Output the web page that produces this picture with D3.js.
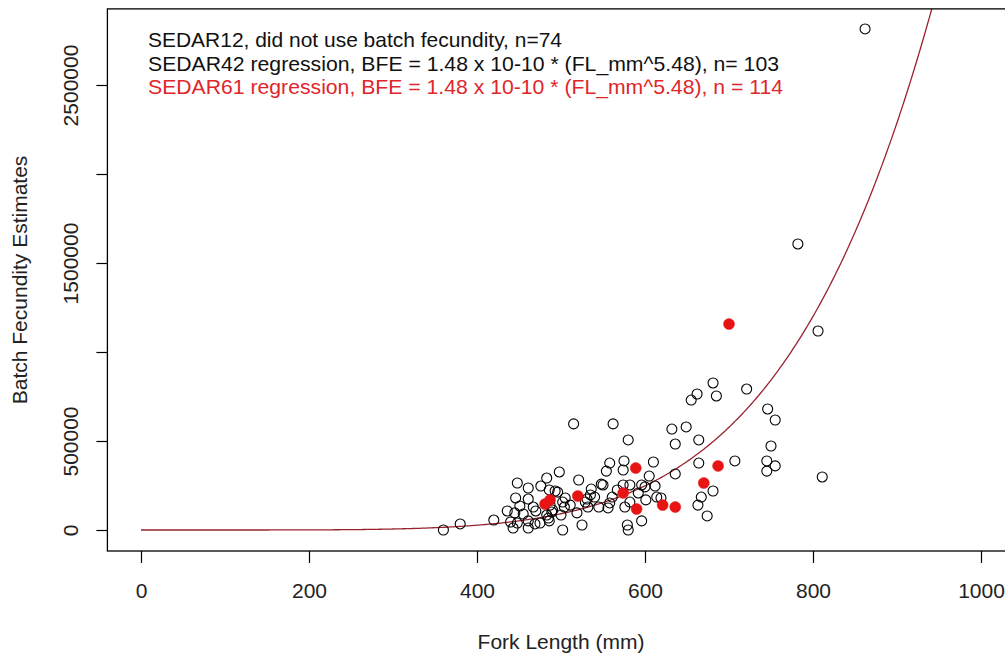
<!DOCTYPE html>
<html><head><meta charset="utf-8">
<script src="https://cdn.jsdelivr.net/npm/d3@7"></script>
<style>body{margin:0;background:#fff}svg{display:block}text{font-family:"Liberation Sans",Arial,sans-serif}</style>
</head><body>
<svg id="c" width="1005" height="658"></svg>
<script>
// SEDAR42 (open circles): fork length (mm) and batch fecundity estimates
const sedar42FL = [360,380,420,448,461,446,461,451,436,445,467,470,440,443,461,461,469,475,483,486,493,485,489,448,
  515,498,521,536,505,531,540,487,502,504,529,532,519,483,500,486,525,502,490,496,545,548,550,
  562,580,558,554,575,574,610,605,574,582,596,600,561,592,601,614,619,556,576,582,579,580,596,558,
  632,649,636,681,662,655,685,721,746,755,664,750,636,664,707,745,755,745,811,681,
  667,663,674,782,806,862,
  476,455,511,535,567,612];
const sedar42BFE = [0,34000,56000,264000,236000,180000,174000,135000,107000,96000,129000,107000,45000,11000,51000,11000,34000,39000,292000,225000,219000,67000,101000,39000,
  596000,326000,281000,230000,180000,174000,185000,140000,157000,129000,157000,129000,96000,84000,84000,51000,28000,0,112000,213000,129000,258000,253000,
  596000,506000,376000,331000,388000,337000,382000,303000,253000,253000,253000,242000,185000,208000,169000,185000,180000,124000,129000,157000,28000,0,51000,152000,
  567000,579000,483000,826000,764000,730000,753000,792000,680000,618000,506000,472000,315000,376000,388000,388000,360000,331000,298000,219000,
  185000,140000,79000,1607000,1118000,2815000,
  247000,90000,140000,197000,225000,247000];
// SEDAR61 additions (filled red)
const sedar61FL  = [481,487,520,574,589,590,621,636,670,687,700];
const sedar61BFE = [146000,169000,191000,208000,348000,118000,140000,129000,264000,360000,1157000];
// regression BFE = a * FL^b
const regA = 1.48e-10, regB = 5.48;
const xTicks = [0,200,400,600,800,1000];
const yTicks = [0,500000,1000000,1500000,2000000,2500000];
const yTickLabels = ["0","500000","","1500000","","2500000"];
const legendLines = ["SEDAR12, did not use batch fecundity, n=74",
  "SEDAR42 regression, BFE = 1.48 x 10-10 * (FL_mm^5.48), n= 103",
  "SEDAR61 regression, BFE = 1.48 x 10-10 * (FL_mm^5.48), n = 114"];
const legendColors = ["#111","#111","#e0262a"];
const legendWidths = [414,631,635];
const xTitle = "Fork Length (mm)", yTitle = "Batch Fecundity Estimates";

const svg = d3.select("#c");
const x = d3.scaleLinear().domain([0,1000]).range([141,981]);
const y = d3.scaleLinear().domain([0,2500000]).range([530,85]);
const L = x(-40), R = x(1040), T = y(2927600), B = y(-118000);

svg.append("clipPath").attr("id","clip").append("rect").attr("x",L).attr("y",T).attr("width",R-L).attr("height",B-T);

// regression curve
const curvePts = d3.range(0,1041,2).map(v=>[v, regA*Math.pow(v,regB)]);
svg.append("path").attr("clip-path","url(#clip)")
  .attr("d", d3.line().x(d=>x(d[0])).y(d=>y(d[1]))(curvePts))
  .attr("fill","none").attr("stroke","#9b2330").attr("stroke-width",1.3);

// open circles
svg.append("g").selectAll("circle").data(sedar42FL).join("circle")
  .attr("cx",(d)=>x(d)).attr("cy",(d,i)=>y(sedar42BFE[i])).attr("r",5)
  .attr("fill","none").attr("stroke","#000").attr("stroke-width",1.1);
// red filled
svg.append("g").selectAll("circle").data(sedar61FL).join("circle")
  .attr("cx",(d)=>x(d)).attr("cy",(d,i)=>y(sedar61BFE[i])).attr("r",5.5)
  .attr("fill","#e81414").attr("stroke","#e81414").attr("stroke-width",0.5);

// frame
svg.append("rect").attr("x",L).attr("y",T).attr("width",R-L).attr("height",B-T)
  .attr("fill","none").attr("stroke","#000").attr("stroke-width",1.3);

// x axis
const xa = svg.append("g").attr("transform",`translate(0,${B})`)
  .call(d3.axisBottom(x).tickValues(xTicks).tickSize(12).tickPadding(20).tickFormat(d3.format("d")));
xa.select(".domain").remove();
xa.selectAll("text").attr("font-size",21).attr("fill","#222").attr("font-family","Liberation Sans, Arial, sans-serif");
xa.selectAll("line").attr("stroke","#000").attr("stroke-width",1.2);

// y axis
const ya = svg.append("g").attr("transform",`translate(${L},0)`)
  .call(d3.axisLeft(y).tickValues(yTicks).tickSize(11).tickFormat((d,i)=>yTickLabels[i]));
ya.select(".domain").remove();
ya.selectAll("line").attr("stroke","#000").attr("stroke-width",1.2);
ya.selectAll("text").attr("font-size",21).attr("fill","#222").attr("font-family","Liberation Sans, Arial, sans-serif")
  .attr("text-anchor","middle").attr("dy",null).attr("x",null)
  .attr("transform",function(){return `translate(${-29},0) rotate(-90)`;});

// titles
svg.append("text").attr("x",(L+R)/2).attr("y",649).attr("text-anchor","middle")
  .attr("font-size",21).attr("fill","#222").text(xTitle);
svg.append("text").attr("transform",`translate(27,${(T+B)/2}) rotate(-90)`).attr("text-anchor","middle")
  .attr("font-size",21).attr("fill","#222").text(yTitle);

// legend text
legendLines.forEach((t,i)=>{
  svg.append("text").attr("x",148).attr("y",47+i*23.5).attr("font-size",21)
    .attr("fill",legendColors[i]).attr("textLength",legendWidths[i]).attr("lengthAdjust","spacingAndGlyphs").text(t);
});
</script>
</body></html>
